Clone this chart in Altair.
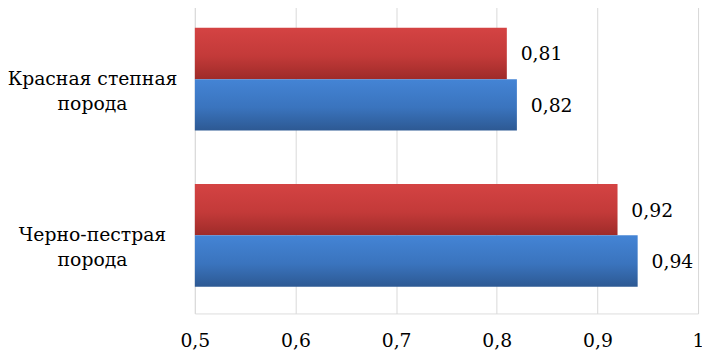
import altair as alt
import pandas as pd

categories = ["Красная степная|порода", "Черно-пестрая|порода"]
series = ["Ряд 1", "Ряд 2"]
values_red = [0.81, 0.92]
values_blue = [0.82, 0.94]
x_ticks = [0.5, 0.6, 0.7, 0.8, 0.9, 1.0]
x_min, x_max = 0.5, 1.0

rows = []
for c, r, b in zip(categories, values_red, values_blue):
    rows.append({"cat": c, "series": series[0], "value": r})
    rows.append({"cat": c, "series": series[1], "value": b})
df = pd.DataFrame(rows)
df["label"] = df["value"].map(lambda v: f"{v:.2f}".replace(".", ","))

FONT = "DejaVu Serif"
FS = 19

x_enc = alt.X(
    "value:Q",
    scale=alt.Scale(domain=[x_min, x_max], nice=False, zero=False),
    axis=alt.Axis(
        values=x_ticks,
        labelExpr="replace(format(datum.value, '.1~f'), '.', ',')",
        title=None,
        grid=True,
        gridColor="#D9D9D9",
        gridWidth=1,
        domain=False,
        ticks=False,
        tickSize=0,
        labelFlush=False,
        labelPadding=18,
        labelFont=FONT,
        labelFontSize=FS,
        labelColor="#000000",
    ),
)
y_enc = alt.Y(
    "cat:N",
    sort=categories,
    scale=alt.Scale(domain=categories, paddingInner=0.342, paddingOuter=0.171),
    axis=alt.Axis(
        title=None,
        domain=False,
        ticks=False,
        tickSize=0,
        labelExpr="split(datum.label, '|')",
        labelAlign="center",
        labelBaseline="middle",
        labelPadding=104,
        labelLimit=400,
        labelLineHeight=25,
        labelFont=FONT,
        labelFontSize=FS,
        labelColor="#000000",
    ),
)
yoff_enc = alt.YOffset("series:N", scale=alt.Scale(domain=series, paddingInner=0, paddingOuter=0))

base = alt.Chart(df)

red_grad = alt.Gradient(
    gradient="linear",
    stops=[
        alt.GradientStop(color="#D44343", offset=0),
        alt.GradientStop(color="#C33A39", offset=0.55),
        alt.GradientStop(color="#9E2B29", offset=1),
    ],
    x1=0, x2=0, y1=0, y2=1,
)
blue_grad = alt.Gradient(
    gradient="linear",
    stops=[
        alt.GradientStop(color="#4484D5", offset=0),
        alt.GradientStop(color="#3A74BE", offset=0.55),
        alt.GradientStop(color="#2D5993", offset=1),
    ],
    x1=0, x2=0, y1=0, y2=1,
)

red_bars = base.transform_filter(alt.datum.series == series[0]).mark_bar(color=red_grad).encode(
    x=x_enc, x2=alt.datum(x_min), y=y_enc, yOffset=yoff_enc
)
blue_bars = base.transform_filter(alt.datum.series == series[1]).mark_bar(color=blue_grad).encode(
    x=x_enc, x2=alt.datum(x_min), y=y_enc, yOffset=yoff_enc
)
labels = base.mark_text(
    align="left", baseline="middle", dx=14, dy=1, font=FONT, fontSize=FS, color="#000000"
).encode(x=x_enc, y=y_enc, yOffset=yoff_enc, text="label:N")

chart = alt.layer(red_bars, blue_bars, labels).properties(
    width=509,
    height=316,
    autosize=alt.AutoSizeParams(type="none"),
    padding={"left": 189, "top": -9, "right": 4, "bottom": 35},
).configure_view(stroke=None).configure(background="white")

chart.save("out.html", embed_options={"renderer": "svg", "actions": False})
